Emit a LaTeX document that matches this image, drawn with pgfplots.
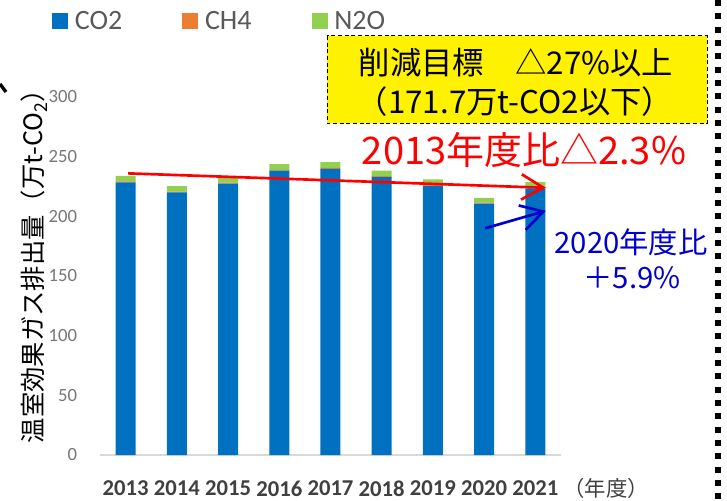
\documentclass[border=0pt]{standalone}
\usepackage{fontspec}
\setmainfont{Carlito}
\newfontfamily\jp{Noto Sans CJK JP}
\usepackage{pgfplots}
\pgfplotsset{compat=1.18}
\usetikzlibrary{calc}
\definecolor{co2blue}{RGB}{0,112,192}
\definecolor{ch4orange}{RGB}{237,125,49}
\definecolor{n2ogreen}{RGB}{146,208,80}
\definecolor{ytickgray}{RGB}{118,118,118}
\definecolor{xtickgray}{RGB}{64,64,64}
\definecolor{leggray}{RGB}{89,89,89}
\definecolor{baseline}{RGB}{217,217,217}
\definecolor{noteblue}{RGB}{0,0,205}

\begin{document}
\begin{tikzpicture}
\path[use as bounding box] (0,0) rectangle (545.25pt,375pt);
\begin{axis}[
  at={(75pt,33.75pt)}, anchor=south west,
  scale only axis, width=345.75pt, height=268.5pt,
  ybar stacked, bar width=15pt,
  xmin=-0.5, xmax=8.5, ymin=0, ymax=300,
  xtick={0,1,2,3,4,5,6,7,8},
  xticklabels={2013,2014,2015,2016,2017,2018,2019,2020,2021},
  ytick={0,50,100,150,200,250,300},
  axis lines*=left,
  y axis line style={draw=none},
  x axis line style={draw=baseline, line width=1pt},
  tick style={draw=none},
  major tick length=0pt,
  clip=false,
  /pgf/number format/assume math mode=true,
  xticklabel style={font=\bfseries\fontsize{17}{17}\selectfont, text=xtickgray,
    anchor=north, inner sep=0pt, yshift=-19pt},
  yticklabel style={font=\fontsize{14}{14}\selectfont, text=ytickgray,
    anchor=east, inner sep=0pt, xshift=-17pt},
  legend columns=3,
  legend style={draw=none, fill=none, inner sep=0pt, anchor=west,
    at={(-0.104,1.212)}, font=\fontsize{21}{21}\selectfont, text=leggray,
    /tikz/every odd column/.append style={column sep=3pt},
    /tikz/every even column/.append style={column sep=43pt}},
  legend image code/.code={\fill[#1] (0pt,-6pt) rectangle (12pt,6pt);},
]
\addplot[fill=co2blue, draw=none] coordinates {
  (0,228.5) (1,220.0) (2,227.5) (3,238.2) (4,239.8)
  (5,232.8) (6,225.3) (7,210.6) (8,223.2)
};
\addplot[fill=ch4orange, draw=none] coordinates {
  (0,0.8) (1,0.8) (2,0.8) (3,0.8) (4,0.8)
  (5,0.8) (6,0.8) (7,0.8) (8,0.8)
};
\addplot[fill=n2ogreen, draw=none] coordinates {
  (0,4.6) (1,4.5) (2,4.5) (3,4.7) (4,4.8)
  (5,4.8) (6,4.8) (7,4.1) (8,4.6)
};
\legend{CO2,CH4,N2O}
\coordinate (redA) at (axis cs:0.05,236);
\coordinate (redB) at (axis cs:8.155,224);
\coordinate (blueA) at (axis cs:7.02,190);
\coordinate (blueB) at (axis cs:8.155,204);
\end{axis}
% arrows with open barbed heads
\draw[red, line width=2pt] (redA) -- (redB);
\draw[red, line width=2pt, line join=miter]
  ($(redB)!19pt!30:(redA)$) -- (redB) -- ($(redB)!19pt!-30:(redA)$);
\draw[noteblue, line width=2pt] (blueA) -- (blueB);
\draw[noteblue, line width=2pt, line join=miter]
  ($(blueB)!19pt!30:(blueA)$) -- (blueB) -- ($(blueB)!19pt!-30:(blueA)$);
\begin{scope}[yshift=375pt, x=0.75pt, y=-0.75pt]
  % target box
  \draw[fill=yellow, line width=0.75pt, dash pattern=on 3pt off 2pt]
    (327,36) rectangle (707,123.5);
  \node[font=\jp\fontsize{23.5}{23.5}\selectfont] at (516,63) {削減目標　△27\%以上};
  \node[font=\jp\fontsize{23.5}{23.5}\selectfont] at (515,102) {（171.7万t-CO2以下）};
  \node[font=\jp\fontsize{28.5}{28.5}\selectfont, text=red] at (524,150) {2013年度比△2.3\%};
  \node[font=\jp\fontsize{22}{22}\selectfont, text=noteblue] at (631,242) {2020年度比};
  \node[font=\jp\fontsize{22}{22}\selectfont, text=noteblue] at (632,278) {＋5.9\%};
  % axis title and unit
  \node[rotate=90, font=\jp\fontsize{19}{19}\selectfont] at (34,260)
    {温室効果ガス排出量（万t-CO\textsubscript{2}）};
  \node[font=\jp\fontsize{16}{16}\selectfont, text=xtickgray] at (606,488) {（年度）};
  % frame fragments
  \draw[line width=4.5pt, dash pattern=on 4.5pt off 5.5pt] (718,0) -- (718,500);
  \draw[line width=2.5pt] (0,84) -- (6,92);
\end{scope}
\end{tikzpicture}
\end{document}
